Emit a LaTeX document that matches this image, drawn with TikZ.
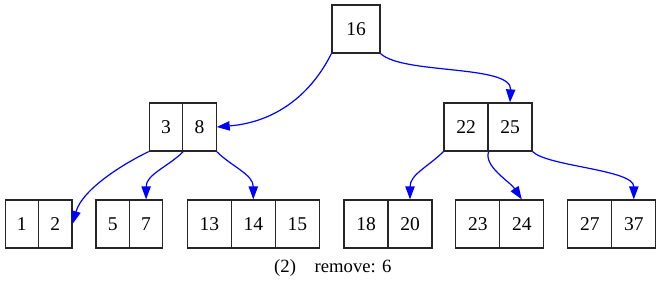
\documentclass[tikz,border=0pt]{standalone}
\usepackage{fontspec}
\setmainfont{Liberation Serif}
\usetikzlibrary{arrows.meta}
\begin{document}
\begin{tikzpicture}[x=1pt,y=-1pt,
  cell/.style={draw=black!85,line width=1.2pt,inner sep=0pt,
    minimum height=48pt,font=\fontsize{19.5}{23}\selectfont},
  narrow/.style={cell,minimum width=33.4pt},
  wide/.style={cell,minimum width=44pt},
  link/.style={draw=blue,line width=1.2pt,
    -{Triangle[length=13pt,width=9.3pt]}}]
\useasboundingbox (0,0) rectangle (661,285);

% root
\node[cell,minimum width=48pt] (n16) at (356,29) {16};

% second level
\node[narrow] (n3) at (166,127) {3};
\node[narrow] (n8) at (199.4,127) {8};
\node[wide] (n22) at (466,127) {22};
\node[wide] (n25) at (510,127) {25};

% leaves
\node[narrow] (n1) at (21.8,224) {1};
\node[narrow] (n2) at (55.2,224) {2};
\node[narrow] (n5) at (112.7,224) {5};
\node[narrow] (n7) at (146.1,224) {7};
\node[wide] (n13) at (209.3,224) {13};
\node[wide] (n14) at (253.3,224) {14};
\node[wide] (n15) at (297.3,224) {15};
\node[wide] (n18) at (366,224) {18};
\node[wide] (n20) at (410,224) {20};
\node[wide] (n23) at (477.8,224) {23};
\node[wide] (n24) at (521.8,224) {24};
\node[wide] (n27) at (589.8,224) {27};
\node[wide] (n37) at (633.8,224) {37};

% child pointers
\draw[link] (n16.south west) .. controls +(-20,40) and +(60,-5) .. (n8.east);
\draw[link] (n16.south east) .. controls +(22,21) and +(2,-38) .. (n25.north);
\draw[link] (n3.south west) .. controls +(-25,12) and +(10,-35) .. (n2.east);
\draw[link] (n3.south east) .. controls +(-15,15) and +(0,-25) .. (n7.north);
\draw[link] (n8.south east) .. controls +(15,15) and +(0,-25) .. (n14.north);
\draw[link] (n22.south west) .. controls +(-15,15) and +(0,-25) .. (n20.north);
\draw[link] (n22.south east) .. controls +(-5,15) and +(-12,-18) .. (n24.north);
\draw[link] (n25.south east) .. controls +(15,15) and +(0,-30) .. (n37.north);

% caption
\node[anchor=base west,inner sep=0pt,font=\fontsize{18.67}{22}\selectfont]
  (cap) at (274,272) {(2)\hspace{18.7pt}remove: 6};
\end{tikzpicture}
\end{document}
